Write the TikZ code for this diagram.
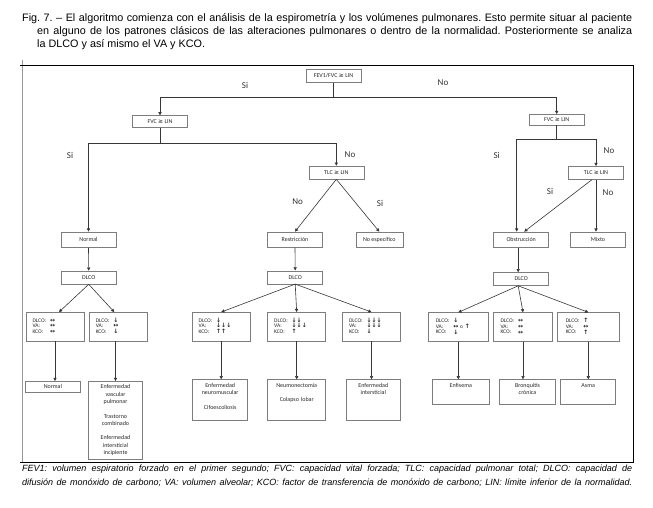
\documentclass[tikz,border=0pt]{standalone}
\usepackage{fontspec}
\setmainfont{Liberation Sans}
\newfontfamily\diafont{Carlito}
\newfontfamily\simfont{DejaVu Sans}
\usetikzlibrary{arrows.meta}
\definecolor{cajagris}{RGB}{125,125,125}
\definecolor{lineagris}{RGB}{55,55,55}
\newcommand{\signo}[1]{\raisebox{-0.1pt}[0pt][0pt]{\simfont\bfseries\fontsize{6}{6}\selectfont #1}}
\newcommand{\abajo}{\signo{↓}}
\newcommand{\arriba}{\signo{↑}}
\newcommand{\igual}{\signo{↔}}
\newcommand{\mayor}{{\simfont ≥}}
\newcommand{\tabla}[3]{\begin{tabular}{@{}p{15pt}@{\hspace{2.5pt}}l@{}}DLCO: & #1\\ VA: & #2\\ KCO: & #3\end{tabular}}
\frenchspacing

\begin{document}
\begin{tikzpicture}[x=1pt,y=-1pt,
  caja/.style={draw=cajagris,line width=.6pt,text=black!85,font=\diafont\fontsize{6}{7}\selectfont,inner sep=1pt,minimum width=55pt,minimum height=13pt},
  valores/.style={caja,minimum width=58pt,minimum height=28.7pt,text width=45pt,inner xsep=6.5pt,align=left,font=\diafont\fontsize{5.5}{5.8}\selectfont},
  resultado/.style={caja,anchor=north,align=center,minimum width=0pt,minimum height=0pt,inner xsep=1pt,inner ysep=2pt,text height=5.5pt,font=\diafont\fontsize{6}{7.3}\selectfont},
  flecha/.style={draw=lineagris,line width=.6pt,-{Triangle[length=3.2pt,width=3.2pt]}},
  rama/.style={font=\diafont\fontsize{9}{9}\selectfont,text=black!80}]
\useasboundingbox (0,0) rectangle (653,507);

% pie de figura y marco
\node[anchor=north west,inner sep=0pt,text width=610pt,align=justify,font=\fontsize{10.8}{13.4}\selectfont] (titulo) at (22,13)
  {\leftskip=15pt\hspace*{-15pt}Fig. 7. – El algoritmo comienza con el análisis de la espirometría y los volúmenes pulmonares. Esto permite situar al paciente\linebreak en alguno de los patrones clásicos de las alteraciones pulmonares o dentro de la normalidad. Posteriormente se analiza\linebreak la DLCO y así mismo el VA y KCO.\par};
\draw[black!40,line width=.6pt] (22,60) -- (22,462);
\draw[black,line width=.8pt] (20,65) -- (633,65) -- (633,462) -- (20,462);
\node[anchor=north west,inner sep=0pt,text width=610pt,align=justify,font=\itshape\fontsize{9}{13.5}\selectfont] (pie) at (22,465)
  {FEV1: volumen espiratorio forzado en el primer segundo; FVC: capacidad vital forzada; TLC: capacidad pulmonar total; DLCO: capacidad de\linebreak difusión de monóxido de carbono; VA: volumen alveolar; KCO: factor de transferencia de monóxido de carbono; LIN: límite inferior de la normalidad.\parfillskip=0pt\par};

% espirometria
\node[caja,minimum height=13.4pt] (fev) at (333.5,76) {FEV1/FVC \mayor\ LIN};
\node[caja,minimum height=11.6pt] (fvcA) at (160,121.5) {FVC \mayor\ LIN};
\node[caja,minimum height=10.7pt] (fvcB) at (556.7,119.7) {FVC \mayor\ LIN};
\node[caja] (tlcA) at (336.3,172.5) {TLC \mayor\ LIN};
\node[caja] (tlcB) at (596,172.8) {TLC \mayor\ LIN};

% patrones
\node[caja,minimum height=15.5pt] (normal) at (88.5,239.7) {Normal};
\node[caja,minimum height=15.5pt] (restric) at (295,239.7) {Restricción};
\node[caja,minimum height=15.5pt,minimum width=47pt] (noesp) at (379.3,239.7) {No específico};
\node[caja,minimum height=15.5pt] (obst) at (521.2,239.7) {Obstrucción};
\node[caja,minimum height=15.5pt] (mixto) at (598,239.7) {Mixto};

\node[caja] (dlcoA) at (88.7,277.5) {DLCO};
\node[caja] (dlcoB) at (295.2,277.3) {DLCO};
\node[caja] (dlcoC) at (521.2,279) {DLCO};

% DLCO, VA y KCO
\node[valores] (vA1) at (55,326.7) {\tabla{\igual}{\igual}{\igual}};
\node[valores] (vA2) at (118.3,326.7) {\tabla{\abajo}{\igual}{\abajo}};
\node[valores] (vB1) at (221.2,326.7) {\tabla{\abajo}{\abajo\abajo\abajo}{\arriba\arriba}};
\node[valores] (vB2) at (296.7,326.7) {\tabla{\abajo\abajo}{\abajo\abajo\abajo}{\arriba}};
\node[valores] (vB3) at (371.5,326.7) {\tabla{\abajo\abajo\abajo}{\abajo\abajo\abajo}{\abajo}};
\node[valores,minimum width=60pt] (vC1) at (458.3,327) {\tabla{\abajo}{\igual\ o \arriba}{\abajo}};
\node[valores,minimum width=59.4pt] (vC2) at (523,327) {\tabla{\igual}{\igual}{\igual}};
\node[valores,minimum width=62pt] (vC3) at (588.3,327) {\tabla{\arriba}{\igual}{\arriba}};

% diagnosticos
\node[resultado,text width=52.3pt,text depth=1.5pt] (rA1) at (52.9,381) {Normal};
\node[resultado,text width=52.4pt,text depth=68.8pt] (rA2) at (115.5,381)
  {Enfermedad\\vascular\\pulmonar\\[7.3pt]Trastorno\\combinado\\[7.3pt]Enfermedad\\intersticial\\incipiente};
\node[resultado,text width=53pt,text depth=31.2pt] (rB1) at (220.2,379.3) {Enfermedad\\neuromuscular\\[7.3pt]Cifoescoliosis};
\node[resultado,text width=56pt,text depth=31.2pt] (rB2) at (296.7,379.3) {Neumonectomía\\[7.3pt]Colapso lobar};
\node[resultado,text width=52.7pt,text depth=31.2pt] (rB3) at (373.3,379.3) {Enfermedad\\intersticial};
\node[resultado,text width=54.3pt,text depth=15.5pt] (rC1) at (460.8,379.3) {Enfisema};
\node[resultado,text width=54.4pt,text depth=15.5pt] (rC2) at (527.5,379.3) {Bronquitis\\crónica};
\node[resultado,text width=53pt,text depth=15.5pt] (rC3) at (588.2,379.3) {Asma};

% conectores
\draw[flecha] (fev.south) -- ++(0,14.6) -| (fvcA.north);
\draw[flecha] (fev.south) -- ++(0,14.6) -| (fvcB.north);
\draw[flecha] (fvcA.south) -- ++(0,16) -| (normal.north);
\draw[flecha] (fvcA.south) -- ++(0,16) -| (tlcA.north);
\draw[flecha] (fvcB.south) -- ++(0,14.3) -| ([xshift=-4.5pt]obst.north);
\draw[flecha] (fvcB.south) -- ++(0,14.3) -| (tlcB.north);
\draw[flecha] (tlcA.south) -- (restric.north);
\draw[flecha] (tlcA.south) -- (noesp.north);
\draw[flecha] ([xshift=-4pt]tlcB.south) -- ([xshift=3pt]obst.north);
\draw[flecha] (tlcB.south) -- (tlcB.south |- mixto.north);

\draw[flecha] (normal.south) -- (dlcoA.north);
\draw[flecha] (restric.south) -- (dlcoB.north);
\draw[flecha] ([xshift=-3pt]obst.south) -- ([xshift=-3pt]dlcoC.north);

\draw[flecha] (dlcoA.south) -- ([xshift=4pt]vA1.north);
\draw[flecha] (dlcoA.south) -- ([xshift=-4pt]vA2.north);
\foreach \v in {vB1,vB2,vB3} \draw[flecha] (dlcoB.south) -- (\v.north);
\foreach \v in {vC1,vC2,vC3} \draw[flecha] ([xshift=-3pt]dlcoC.south) -- (\v.north);

\foreach \a/\b in {vA1/rA1,vB1/rB1,vB2/rB2,vB3/rB3,vC1/rC1,vC2/rC2,vC3/rC3}
  \draw[flecha] (\a.south) -- (\a.south |- \b.north);
\draw[flecha] (rA2.north |- vA2.south) -- (rA2.north);

% etiquetas
\node[rama] (si1) at (245,85) {Si};
\node[rama] (no1) at (443,83) {No};
\node[rama] (si2) at (70,155) {Si};
\node[rama] (no2) at (350,155) {No};
\node[rama] (no3) at (297.7,201.7) {No};
\node[rama] (si3) at (380,203) {Si};
\node[rama] (si4) at (496.7,155) {Si};
\node[rama] (no4) at (609,150.7) {No};
\node[rama] (si5) at (550,191.7) {Si};
\node[rama] (no5) at (608,192.3) {No};
\end{tikzpicture}
\end{document}
